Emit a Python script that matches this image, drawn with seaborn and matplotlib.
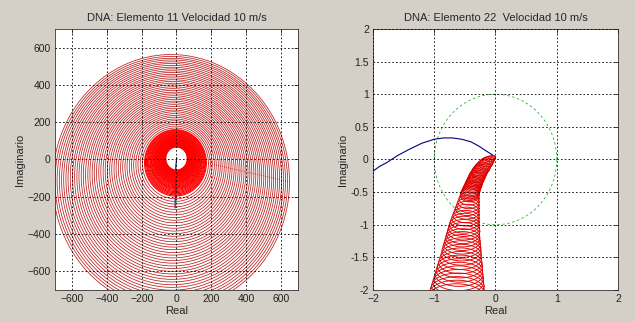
import numpy as np
import pandas as pd
import matplotlib
matplotlib.use("Agg")
import matplotlib.pyplot as plt
import seaborn as sbrn

sbrn.set_style("white")
plt.rcParams['font.family'] = ['Liberation Sans', 'DejaVu Sans']

# ---- left panel: Nyquist rings (centre x, centre y, radius) ----
core_r = [62, 64, 66, 68, 70, 72, 74, 76, 78, 80, 82, 84, 86, 88, 90,
          93, 96, 99, 102, 105, 108, 111, 114, 117, 120,
          124, 128, 132, 136, 140, 144, 148,
          153, 158, 163, 168, 173, 178]
core_cx = [0, 0, 0, 0, 0, 0, -1, -1, -1, -1, -1, -1, -1, -1, -1,
           -2, -2, -2, -2, -2, -2, -2, -3, -3, -3,
           -3, -3, -3, -4, -4, -4, -4,
           -5, -5, -5, -5, -6, -6]
core_cy = [5, 5, 4, 4, 3, 3, 3, 2, 2, 1, 1, 1, 0, 0, -1,
           -1, -2, -2, -3, -4, -4, -5, -5, -6, -7,
           -7, -8, -9, -10, -11, -11, -12,
           -13, -14, -15, -16, -17, -18]
ring_r = [190, 202, 214, 226, 238, 250, 262, 274, 286, 298, 310, 322, 334, 346,
          358, 370, 382, 394, 406, 418, 430, 442, 454, 466, 478, 490, 502, 514,
          526, 538, 550, 562, 574, 586, 598, 610, 622, 634, 646, 658, 670, 682]
ring_cx = [-6, -7, -8, -8, -9, -9, -10, -11, -11, -12, -12, -13, -14, -14,
           -15, -15, -16, -17, -17, -18, -18, -19, -20, -20, -21, -21, -22, -23,
           -23, -24, -24, -25, -25, -26, -27, -27, -28, -28, -29, -30, -30, -31]
ring_cy = [-21, -23, -25, -28, -30, -33, -35, -38, -40, -42, -45, -47, -50, -52,
           -54, -57, -59, -62, -64, -66, -69, -71, -74, -76, -78, -81, -83, -86,
           -88, -90, -93, -95, -98, -100, -103, -105, -107, -110, -112, -115, -117, -119]
stem_x = [2, 0, -3, -5, -6, -7, -8]
stem_y = [10, 0, -30, -60, -120, -190, -260]

# ---- right panel ----
blue_x = [-2.0, -1.9, -1.78, -1.6, -1.4, -1.2, -1.0, -0.85, -0.7, -0.55, -0.4,
          -0.28, -0.15, -0.05, 0.0]
blue_y = [-0.18, -0.11, -0.05, 0.06, 0.16, 0.25, 0.31, 0.33, 0.33, 0.31, 0.27,
          0.21, 0.13, 0.07, 0.04]
loop_cy = [0.03, 0.01, -0.01, -0.03, -0.05, -0.07, -0.09, -0.11, -0.13, -0.15,
           -0.17, -0.19, -0.21, -0.23, -0.25, -0.27, -0.29, -0.31, -0.33, -0.35,
           -0.37, -0.39, -0.41, -0.43, -0.45, -0.47, -0.49, -0.51, -0.53, -0.55,
           -0.60, -0.65, -0.70, -0.75, -0.80, -0.85, -0.90, -0.95, -1.00, -1.05,
           -1.10, -1.15, -1.20, -1.25, -1.30, -1.35, -1.40, -1.46, -1.52, -1.58,
           -1.64, -1.70, -1.76, -1.82, -1.88, -1.94, -2.00, -2.06, -2.12]
loop_cx = [-0.06, -0.095, -0.12, -0.14, -0.155, -0.17, -0.19, -0.205, -0.22, -0.23,
           -0.25, -0.26, -0.27, -0.285, -0.295, -0.305, -0.315, -0.325, -0.335, -0.345,
           -0.355, -0.36, -0.37, -0.38, -0.39, -0.395, -0.405, -0.41, -0.42, -0.42,
           -0.43, -0.44, -0.45, -0.46, -0.47, -0.48, -0.49, -0.5, -0.51, -0.515,
           -0.52, -0.53, -0.535, -0.54, -0.545, -0.55, -0.555, -0.56, -0.57, -0.575,
           -0.58, -0.59, -0.595, -0.6, -0.61, -0.615, -0.625, -0.63, -0.64]
loop_a = [0.06, 0.085, 0.1, 0.11, 0.115, 0.12, 0.12, 0.125, 0.13, 0.13,
          0.13, 0.13, 0.13, 0.135, 0.135, 0.135, 0.135, 0.135, 0.135, 0.135,
          0.135, 0.14, 0.14, 0.14, 0.14, 0.145, 0.145, 0.15, 0.15, 0.155,
          0.165, 0.175, 0.185, 0.195, 0.205, 0.215, 0.225, 0.235, 0.245, 0.255,
          0.265, 0.27, 0.28, 0.29, 0.3, 0.31, 0.32, 0.33, 0.34, 0.355,
          0.37, 0.38, 0.39, 0.405, 0.415, 0.43, 0.44, 0.455, 0.465]
loop_b = [0.03, 0.04, 0.05, 0.055, 0.06, 0.065, 0.07, 0.07, 0.075, 0.075,
          0.08, 0.08, 0.08, 0.085, 0.085, 0.085, 0.09, 0.09, 0.09, 0.09,
          0.095, 0.095, 0.095, 0.095, 0.1, 0.1, 0.1, 0.1, 0.1, 0.1,
          0.1, 0.105, 0.11, 0.11, 0.115, 0.12, 0.12, 0.125, 0.13, 0.13,
          0.135, 0.14, 0.14, 0.145, 0.15, 0.15, 0.155, 0.16, 0.165, 0.17,
          0.175, 0.18, 0.185, 0.19, 0.195, 0.2, 0.205, 0.21, 0.215]
unit_r = 1.0

t = np.linspace(0, 2 * np.pi, 241)


def rings_frame(cxs, cys, rxs, rys):
    parts = []
    for i, (cx, cy, rx, ry) in enumerate(zip(cxs, cys, rxs, rys)):
        parts.append(pd.DataFrame({"x": cx + rx * np.cos(t), "y": cy + ry * np.sin(t), "k": i}))
    return pd.concat(parts, ignore_index=True)


core = rings_frame(core_cx, core_cy, core_r, core_r)
rings = rings_frame(ring_cx, ring_cy, ring_r, ring_r)
loops = rings_frame(loop_cx, loop_cy, loop_a, loop_b)
unit = pd.DataFrame({"x": unit_r * np.cos(t), "y": unit_r * np.sin(t)})

bg = "#d4d0c8"
fig = plt.figure(figsize=(6.35, 3.22), dpi=100, facecolor=bg)
ax1 = fig.add_axes([0.0866, 0.0994, 0.3827, 0.8106])
ax2 = fig.add_axes([0.5874, 0.0994, 0.3858, 0.8106])

# left
sbrn.lineplot(x=stem_x, y=stem_y, color="#000080", lw=0.8, sort=False,
              estimator=None, ax=ax1)
sbrn.lineplot(data=rings, x="x", y="y", units="k", estimator=None, sort=False,
              color="#bc1c1c", lw=0.55, ax=ax1, legend=False)
sbrn.lineplot(data=core, x="x", y="y", units="k", estimator=None, sort=False,
              color="#ff0000", lw=0.8, ax=ax1, legend=False)
ax1.set_xlim(-700, 700)
ax1.set_ylim(-700, 700)
ax1.set_xticks([-600, -400, -200, 0, 200, 400, 600])
ax1.set_yticks([-600, -400, -200, 0, 200, 400, 600])
ax1.set_title("DNA: Elemento 11 Velocidad 10 m/s", fontsize=8, pad=6)

# right
sbrn.lineplot(data=unit, x="x", y="y", sort=False, estimator=None,
              color="#22bb22", lw=0.6, ls=(0, (3, 3)), ax=ax2)
sbrn.lineplot(x=blue_x, y=blue_y, color="#000080", lw=0.8, sort=False,
              estimator=None, ax=ax2)
sbrn.lineplot(data=loops, x="x", y="y", units="k", estimator=None, sort=False,
              color="#e00000", lw=0.65, ax=ax2, legend=False)
ax2.set_xlim(-2, 2)
ax2.set_ylim(-2, 2)
ax2.set_xticks([-2, -1, 0, 1, 2])
ax2.set_yticks([-2, -1.5, -1, -0.5, 0, 0.5, 1, 1.5, 2])
ax2.set_yticklabels(["-2", "-1.5", "-1", "-0.5", "0", "0.5", "1", "1.5", "2"])
ax2.set_title("DNA: Elemento 22  Velocidad 10 m/s", fontsize=8, pad=6)

for ax in (ax1, ax2):
    ax.set_facecolor("white")
    ax.set_axisbelow(False)
    ax.grid(True, color="black", ls=(0, (2, 2.5)), lw=0.6)
    ax.set_xlabel("Real", fontsize=8, labelpad=1)
    ax.set_ylabel("Imaginario", fontsize=8, labelpad=2)
    ax.tick_params(direction="in", length=3, width=0.6, labelsize=7.5,
                   top=True, right=True, colors="#222222", pad=3)
    for s in ax.spines.values():
        s.set_color("#333333")
        s.set_linewidth(0.6)

plt.savefig("out.png", dpi=100, facecolor=bg)
